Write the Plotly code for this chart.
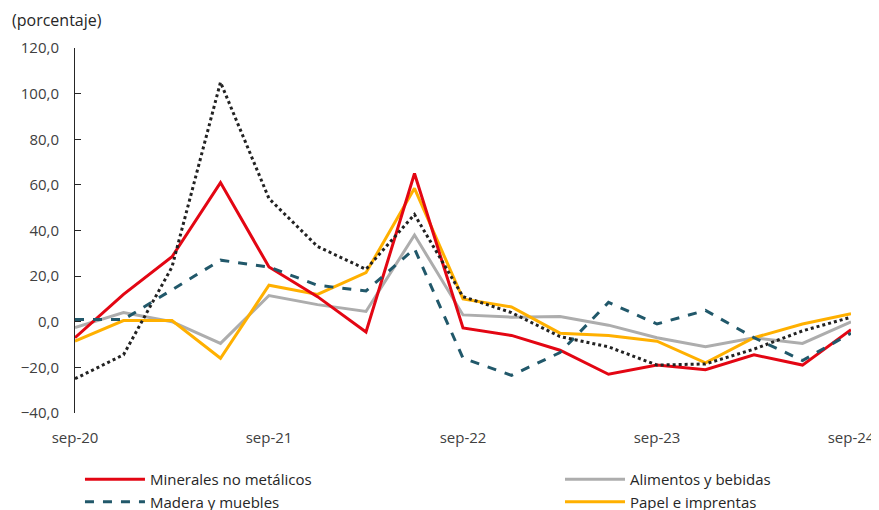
import plotly.graph_objects as go

# trimestres sep-20 .. sep-24
trimestres = []
for anio in range(20, 25):
    for mes in ["mar", "jun", "sep", "dic"]:
        trimestres.append(f"{mes}-{anio}")
trimestres = trimestres[2:19]

minerales = [-7, 12, 28.5, 61, 24, 11, -4.5, 65, -2.7, -6, -12.5, -23, -19, -21, -14.5, -19, -3.5]
alimentos = [-2.5, 4, 0, -9.5, 11.5, 7.5, 4.5, 38, 3, 2, 2.3, -1.5, -7, -11, -7, -9.5, 0]
madera = [1, 1, 14, 27, 24, 16, 13.5, 32, -16, -23.5, -13.5, 8.5, -1, 5, -7, -17, -5]
papel = [-8.5, 0.5, 0.5, -16, 16, 12, 21.5, 58.5, 10, 6.5, -5, -6, -8.5, -18, -7, -1, 3.5]
total = [-25, -14.5, 24, 105, 54, 33, 23, 47, 11, 4, -6.5, -11, -19, -18.5, -12, -4, 2]

ticks_x = ["sep-20", "sep-21", "sep-22", "sep-23", "sep-24"]

fig = go.Figure()
fig.add_trace(go.Scatter(x=trimestres, y=alimentos, name="Alimentos y bebidas", mode="lines",
                         line=dict(color="#ADADAD", width=3), legend="legend2", legendrank=1))
fig.add_trace(go.Scatter(x=trimestres, y=papel, name="Papel e imprentas", mode="lines",
                         line=dict(color="#FFB000", width=3), legend="legend2", legendrank=2))
fig.add_trace(go.Scatter(x=trimestres, y=minerales, name="Minerales no metálicos", mode="lines",
                         line=dict(color="#E30613", width=3), legendrank=1))
fig.add_trace(go.Scatter(x=trimestres, y=madera, name="Madera y muebles", mode="lines",
                         line=dict(color="#21586A", width=3, dash="dash"), legendrank=2))
fig.add_trace(go.Scatter(x=trimestres, y=total, name="Total", mode="lines", showlegend=False,
                         line=dict(color="#222222", width=3, dash="dot")))

leyenda = dict(orientation="v", xanchor="left", y=-0.137, yanchor="top", itemwidth=60,
               font=dict(size=15, color="#262626"), tracegroupgap=0, traceorder="normal")

fig.update_layout(
    width=879, height=510,
    margin=dict(l=67, r=36, t=40, b=105, autoexpand=False),
    paper_bgcolor="white", plot_bgcolor="white",
    separators=",.",
    font=dict(family="Open Sans, sans-serif", size=15, color="#404040"),
    showlegend=True,
    legend=dict(leyenda, x=0.0064),
    legend2=dict(leyenda, x=0.625),
    xaxis=dict(type="category", range=[0, 16], tickmode="array", tickvals=ticks_x, ticktext=ticks_x,
               showline=False, showgrid=False, zeroline=False, ticks="", ticklabelstandoff=14),
    xaxis2=dict(overlaying="x", anchor="free", position=0.25, range=[0, 16], matches="x",
                showline=True, linecolor="#262626", linewidth=1, ticks="inside", ticklen=5,
                tickcolor="#262626", tickmode="array", tickvals=[4, 8, 12], showticklabels=False,
                showgrid=False, zeroline=False),
    yaxis=dict(range=[-40, 120], tickmode="array", tickvals=[-40, -20, 0, 20, 40, 60, 80, 100, 120],
               tickformat=".1f", showline=True, linecolor="#262626", linewidth=1, ticks="inside",
               ticklen=6, tickcolor="#262626", showgrid=False, zeroline=False, ticklabelstandoff=12),
    annotations=[dict(text="(porcentaje)", xref="paper", yref="paper", x=-0.084, y=1.077,
                      xanchor="left", yanchor="middle", showarrow=False,
                      font=dict(size=16, color="#262626"))],
)

fig.write_html("out.html")
